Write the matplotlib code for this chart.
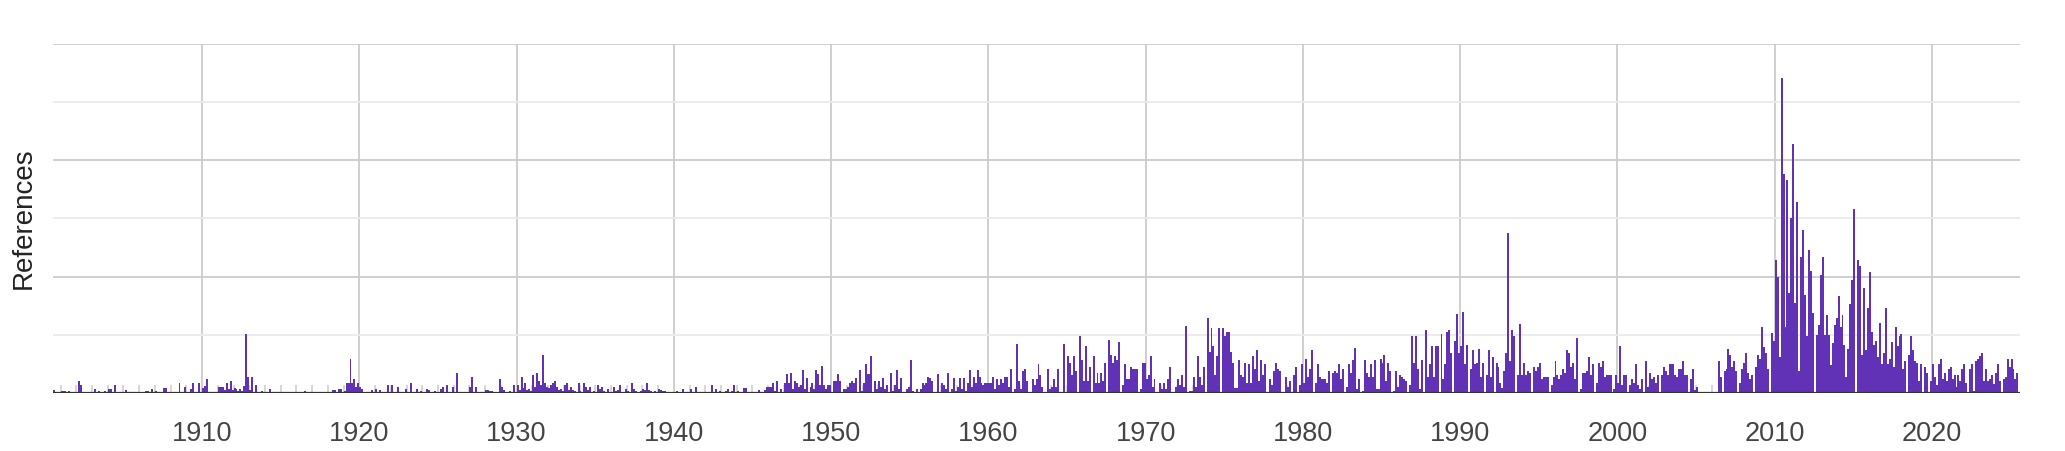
import numpy as np
import matplotlib
matplotlib.use("Agg")
import matplotlib.pyplot as plt

# Bars: 8 bins per year, one list per decade (bin i of a decade starts at decade + i/8)
d1900 = [0,0,0,0,0.5,0,0,0,0.35,0.4,
         0.4,0,0.35,0,0,0,0,2.1,1.3,0,
         0.2,0.2,0.2,0.2,0,0.7,0,0.35,0,0,
         0.35,0,0.7,0.7,0,1.4,0,0,0,0,
         0,0.5,0,0,0.2,0,0,0,0,0,
         0,0.35,0.35,0,0.7,0,0.35,0,0,0,
         0.8,0.9,0,0,0,0,0,0,1.7,0,
         0,1.0,0,0,0.7,1.7,0,0,1.7,0]
d1910 = [0.8,1.2,2.4,0,0,0,0,0,1.0,1.0,
         1.0,0.6,1.7,0.7,2.1,0.5,0.8,0.7,0.4,0.7,
         0.3,1.2,10.1,2.8,0.5,2.8,0,1.4,0,0,
         0.35,0,0,0,0.7,0.2,0,0,0,0,
         0,0,0.2,0.2,0.2,0,0.2,0,0,0,
         0,0,0.35,0,0,0.2,0,0,0,0,
         0.2,0,0,0,0,0,0.5,0.5,0,0.7,
         0.7,0,0.3,1.7,1.7,5.9,1.7,2.4,1.0,1.7]
d1920 = [1.0,0.7,0,0.2,0,0,0.5,0,0.7,0,
         0.6,0,0.2,0,1.4,0,1.4,0,0,1.0,
         0,0,0,0.7,0,0,1.7,0,0,0.7,
         0,0.35,0,0,0.7,0.5,0,0,0.35,0,
         0,0.7,1.0,0,1.4,0,0.2,1.0,0,3.5,
         0,0,0,0,0,0,1.0,2.8,0,1.0,
         0,0,0,0,0.5,0.5,0.4,0.3,0,0,
         0,2.4,1.0,0.5,0,0,0.35,0,1.4,0]
d1930 = [1.4,0.5,2.8,0.8,1.7,0.6,0.7,0.4,3.1,1.0,
         3.5,2.1,1.4,6.6,1.7,1.0,0.8,1.4,1.7,2.1,
         1.0,0.5,0.7,0.4,1.4,1.7,0.6,1.0,0.5,0.3,
         0,1.7,0.4,0,1.7,1.0,0.5,1.0,0,0.3,
         0,1.4,0.7,1.0,0.3,0,0.7,0,0,1.0,
         0.4,0.6,1.4,0,0,0.7,0.3,0,1.7,0.7,
         0.3,0,0,0.35,0.7,0.5,1.7,0.6,0.35,0,
         0.3,0,0.7,0.5,0.3,0.35,0.2,0,0.2,0]
d1940 = [0,0.35,0,0,0.7,0,0,0,0.7,0,
         0,1.0,0,0,0.2,0,0,0,0,1.4,
         0,0.7,0,0.3,0,0,0.35,0.7,0,0.3,
         1.4,0,0.35,0.2,0,0.9,0.9,0.2,0.2,0.2,
         0,0.2,0,0.5,0,0,0.5,1.1,1.1,1.1,
         1.8,0.4,2.1,0,0.75,0.1,1.8,3.2,1.8,3.5,
         0.75,2.1,1.8,1.1,1.4,3.9,0.75,2.5,0,1.1,
         1.8,0.75,3.9,3.2,1.4,4.6,1.4,0.75,1.4,1.4]
d1950 = [0,2.1,2.1,3.2,2.1,0,0.75,0.75,1.1,1.8,
         2.1,1.8,2.5,0,3.9,0.4,1.8,4.9,3.2,3.2,
         6.3,0,2.1,0.75,2.1,1.1,2.5,0.75,1.4,0,
         3.5,0.4,1.4,3.9,0.75,2.5,0,0.2,0.75,1.1,
         5.6,0.4,0,0.75,0,0.75,1.8,1.4,1.8,2.8,
         2.5,2.1,0.1,0,3.2,0.1,1.8,1.4,0.75,3.5,
         0.1,0.75,2.5,0.4,1.1,2.5,0.75,2.5,0.4,1.8,
         3.9,1.1,2.8,1.8,3.9,2.8,1.8,1.4,1.75,1.75]
d1960 = [1.75,1.75,2.8,0.7,2.4,1.4,2.4,1.75,2.8,2.8,
         1.0,4.2,0,0.7,8.4,2.1,0.7,3.8,4.2,2.1,
         0,0,2.4,1.4,2.4,4.9,3.1,1.0,0,0,
         4.2,0.7,1.0,2.4,1.0,4.2,0,0,8.4,0.2,
         6.3,5.2,3.1,6.3,3.8,0,9.8,5.6,2.1,8.0,
         2.1,4.5,0,6.3,1.75,3.5,1.75,3.5,2.1,5.2,
         0,9.1,6.6,5.2,6.3,5.6,8.7,0,1.4,4.9,
         2.4,2.4,4.5,4.2,4.2,4.2,0,0.7,5.2,5.2]
d1970 = [2.4,3.1,6.3,1.0,2.4,0,0.1,1.75,0.7,1.75,
         0.7,2.4,4.5,0,0,1.0,2.4,1.4,3.1,1.0,
         11.5,0,0.35,0.35,2.8,1.0,6.3,2.8,1.4,4.5,
         0,12.9,7.0,11.2,8.0,3.1,6.3,11.2,0,11.2,
         9.8,10.5,10.5,7.0,5.2,0.8,0.8,5.6,3.1,2.8,
         5.2,1.75,4.9,1.75,6.3,4.2,7.3,2.1,5.6,3.1,
         4.9,0,0,2.4,1.4,3.8,5.2,4.2,3.8,0.1,
         0,2.8,1.0,2.1,0,3.1,4.5,0,1.4,4.9]
d1980 = [1.75,5.9,2.8,4.2,7.3,0,1.75,4.9,2.8,2.4,
         2.4,2.4,1.75,3.8,0,3.5,3.8,3.5,4.9,2.4,
         4.2,0,1.0,4.9,3.5,5.6,7.7,0.7,2.4,0,
         0.35,5.6,3.5,2.8,4.9,2.8,5.6,0.7,0.7,5.9,
         5.2,6.6,2.1,5.2,3.8,0,0.35,3.8,1.0,3.1,
         2.8,2.4,2.1,0,1.4,9.8,5.2,9.8,4.2,0.7,
         5.6,0,10.8,2.8,4.9,8.0,2.8,8.0,8.0,0,
         10.1,2.4,4.9,10.5,10.8,6.9,0,9.0,13.5,6.9]
d1990 = [8.0,13.9,4.9,8.3,0,4.2,7.3,4.9,5.2,7.6,
         2.8,5.2,0.2,3.1,7.3,2.8,6.2,0,5.2,4.5,
         1.7,0.8,3.8,6.9,27.4,5.5,10.8,9.7,0,3.1,
         11.8,3.1,5.2,3.1,3.8,3.5,0,4.5,3.8,4.5,
         5.2,2.4,2.8,2.8,2.8,0,1.4,2.8,5.5,3.1,
         2.4,3.1,4.2,3.5,7.3,6.9,4.5,5.2,2.4,9.4,
         0,0.7,3.5,3.5,3.8,6.2,3.1,4.9,0,1.7,
         5.2,4.5,5.5,2.8,3.1,3.1,3.1,0.2,0.7,3.1]
d2000 = [1.7,8.0,1.4,3.1,3.1,0,1.4,2.4,1.7,4.9,
         1.4,0.7,2.4,0,5.5,1.0,3.5,2.4,2.8,1.7,
         3.1,0,3.1,4.5,3.8,3.1,4.9,4.9,4.9,3.1,
         2.8,4.2,4.2,5.5,3.1,3.1,0,2.4,4.1,0.5,
         1.0,0,0,0,0,0,0,0,0,0,
         0,5.5,2.8,0,3.8,4.1,7.6,6.6,4.5,5.5,
         3.8,0,1.7,4.1,5.2,6.9,3.4,2.4,3.1,0,
         4.5,6.6,5.9,11.4,7.9,6.9,4.1,0,10.3,9.0]
d2010 = [22.8,20.0,6.2,54.1,37.6,11.4,36.6,17.2,30.0,42.8,
         15.5,32.8,3.8,23.4,27.9,16.9,9.7,24.5,21.0,13.8,
         0,10.0,11.7,20.3,23.4,10.0,13.4,10.0,4.8,8.6,
         11.7,12.8,16.6,11.4,13.4,8.3,2.8,7.6,15.3,19.4,
         31.6,0,22.9,21.8,6.6,18.0,7.3,14.6,20.8,10.4,
         8.3,9.0,6.2,12.1,4.9,6.9,14.6,4.9,5.9,8.7,
         4.5,11.4,8.0,9.7,10.1,4.2,5.5,0,6.6,9.7,
         7.3,5.5,5.2,2.1,4.9,0,4.5,3.5,0,2.1]
d2020 = [4.9,2.8,1.4,4.9,5.8,2.4,3.5,2.1,4.2,4.5,
         2.4,3.1,1.0,3.1,2.1,4.2,4.9,1.7,0.1,4.2,
         4.9,0.35,5.5,5.8,6.4,6.9,2.1,4.1,2.1,2.4,
         3.1,1.5,3.5,4.9,2.1,0,2.4,2.8,5.8,4.5,
         5.8,4.2,2.4,3.5]

decades = [1900, 1910, 1920, 1930, 1940, 1950, 1960, 1970, 1980, 1990, 2000, 2010, 2020]
series = [d1900, d1910, d1920, d1930, d1940, d1950, d1960, d1970, d1980, d1990, d2000, d2010, d2020]
tick_years = [1910, 1920, 1930, 1940, 1950, 1960, 1970, 1980, 1990, 2000, 2010, 2020]
bins_per_year = 8

xs, ys = [], []
for dec, vals in zip(decades, series):
    for i, v in enumerate(vals):
        xs.append(dec + i / bins_per_year)
        ys.append(v)

W, H = 2065, 451
fig = plt.figure(figsize=(W / 100, H / 100), dpi=100)
ax = fig.add_axes([52.7 / W, 1 - 393 / H, (2020 - 52.7) / W, (393 - 43.5) / H])

ax.bar(xs, ys, width=1 / bins_per_year, align='edge', color='#6232b6',
       linewidth=0, antialiased=False, zorder=2)

ax.set_xlim(1900.5, 2025.6)
ax.set_ylim(0, 60)
ax.set_axisbelow(True)

# horizontal grid: major (darker) and minor (lighter)
ax.set_yticks([0, 20, 40, 60])
ax.set_yticks([10, 30, 50], minor=True)
ax.yaxis.grid(True, which='major', color='#cccccc', linewidth=1.3)
ax.yaxis.grid(True, which='minor', color='#ebebeb', linewidth=1.3)
ax.tick_params(axis='y', which='both', length=0, labelleft=False)

ax.set_xticks(tick_years)
ax.set_xticklabels([str(y) for y in tick_years])
ax.set_xticks(list(range(1901, 2026)), minor=True)
ax.xaxis.grid(True, which='major', color='#cccccc', linewidth=1.3)
ax.tick_params(axis='x', which='major', length=0, pad=20, labelsize=19.5,
               labelcolor='#444444')
ax.tick_params(axis='x', which='minor', direction='in', length=6,
               width=1.1, color='#cccccc')
for lab in ax.get_xticklabels():
    lab.set_fontfamily(['Liberation Sans', 'DejaVu Sans'])

for s in ax.spines.values():
    s.set_visible(False)
ax.axhline(0, color='#333333', linewidth=1.6, zorder=4)

fig.text(23.7 / W, 1 - 218 / H, 'References', rotation=90, ha='center', va='center',
         fontsize=20, color='#222222', family=['Liberation Sans', 'DejaVu Sans'])

fig.savefig('out.png', dpi=100)
